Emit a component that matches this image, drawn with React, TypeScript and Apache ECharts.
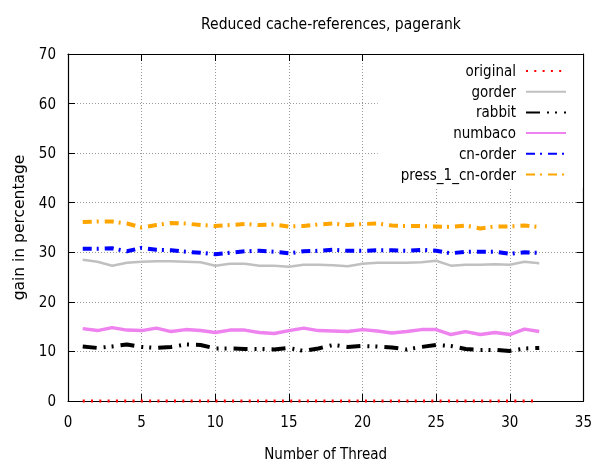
import React, { useEffect, useRef } from "react";
import * as echarts from "echarts";

const titleText = "Reduced cache-references, pagerank";
const xAxisName = "Number of Thread";
const yAxisName = "gain in percentage";

const threads = [1, 2, 3, 4, 5, 6, 7, 8, 9, 10, 11, 12, 13, 14, 15, 16, 17, 18, 19, 20, 21, 22, 23, 24, 25, 26, 27, 28, 29, 30, 31, 32];

const original = [0, 0, 0, 0, 0, 0, 0, 0, 0, 0, 0, 0, 0, 0, 0, 0, 0, 0, 0, 0, 0, 0, 0, 0, 0, 0, 0, 0, 0, 0, 0, 0];
const gorder = [28.5, 28.1, 27.3, 27.9, 28.1, 28.2, 28.2, 28.1, 28.0, 27.3, 27.7, 27.7, 27.3, 27.3, 27.1, 27.5, 27.5, 27.4, 27.2, 27.7, 27.9, 27.9, 27.9, 28.0, 28.3, 27.3, 27.5, 27.5, 27.6, 27.5, 28.1, 27.8];
const rabbit = [11.0, 10.7, 11.0, 11.4, 10.9, 10.7, 10.9, 11.4, 11.3, 10.6, 10.6, 10.5, 10.5, 10.4, 10.7, 10.1, 10.6, 11.3, 10.9, 11.1, 11.0, 10.8, 10.4, 10.9, 11.3, 11.1, 10.5, 10.3, 10.3, 10.1, 10.6, 10.7];
const numbaco = [14.6, 14.2, 14.8, 14.3, 14.2, 14.7, 14.0, 14.4, 14.2, 13.8, 14.3, 14.3, 13.8, 13.6, 14.2, 14.7, 14.2, 14.1, 14.0, 14.4, 14.1, 13.7, 14.0, 14.4, 14.4, 13.4, 14.0, 13.4, 13.8, 13.4, 14.5, 14.0];
const cnOrder = [30.7, 30.7, 30.8, 30.2, 30.9, 30.5, 30.4, 30.1, 29.9, 29.6, 29.9, 30.2, 30.3, 30.1, 29.8, 30.2, 30.3, 30.5, 30.3, 30.3, 30.4, 30.4, 30.3, 30.5, 30.3, 29.8, 30.1, 30.1, 30.1, 29.7, 30.0, 29.9];
const press1CnOrder = [36.1, 36.2, 36.2, 35.8, 35.0, 35.5, 35.9, 35.8, 35.5, 35.3, 35.5, 35.7, 35.5, 35.6, 35.2, 35.3, 35.6, 35.8, 35.5, 35.7, 35.8, 35.4, 35.3, 35.3, 35.2, 35.1, 35.4, 34.8, 35.2, 35.2, 35.4, 35.1];

const seriesNames = ["original", "gorder", "rabbit", "numbaco", "cn-order", "press_1_cn-order"];

const FONT = "'DejaVu Sans Condensed', 'DejaVu Sans', sans-serif";
const FONT_REG = "'DejaVu Sans', sans-serif";

function pairs(vals: number[]) {
  return threads.map((t, i) => [t, vals[i]]);
}

export default function App() {
  const ref = useRef<HTMLDivElement>(null);
  useEffect(() => {
    if (!ref.current) return;
    const chart = echarts.init(ref.current, undefined, { renderer: "svg" });
    const axisCommon = {
      type: "value" as const,
      axisLine: { show: true, onZero: false, lineStyle: { color: "#000", width: 1.2 } },
      axisTick: { show: true, inside: true, length: 7, lineStyle: { color: "#000", width: 1 } },
    };
    const mk = (name: string, vals: number[], color: string, width: number, dash: any, extra: any = {}) => ({
      name,
      type: "line",
      data: pairs(vals),
      symbol: "none",
      showSymbol: false,
      lineStyle: { color, width, type: dash, cap: "butt" },
      itemStyle: { color },
      ...extra,
    });
    chart.setOption({
      animation: false,
      textStyle: { fontFamily: FONT },
      title: {
        text: titleText,
        left: 326,
        textAlign: "center",
        top: 11,
        textStyle: { fontFamily: FONT, fontSize: 15.5, fontWeight: "normal", color: "#000" },
      },
      grid: { left: 68, right: 10, top: 54, bottom: 60, containLabel: false },
      xAxis: [
        {
          ...axisCommon,
          position: "bottom",
          min: 0,
          max: 35,
          interval: 5,
          name: xAxisName,
          nameLocation: "middle",
          nameGap: 45,
          nameTextStyle: { fontFamily: FONT, fontSize: 15, color: "#000" },
          axisLabel: { show: true, margin: 13, fontFamily: FONT, fontSize: 15, color: "#000" },
          splitLine: { show: true, lineStyle: { color: "#999", width: 1, type: [1, 2] } },
        },
        {
          ...axisCommon,
          position: "top",
          min: 0,
          max: 35,
          interval: 5,
          axisLabel: { show: false },
          splitLine: { show: false },
        },
      ],
      yAxis: [
        {
          ...axisCommon,
          position: "left",
          min: 0,
          max: 70,
          interval: 10,
          name: yAxisName,
          nameLocation: "middle",
          nameGap: 41,
          nameTextStyle: { fontFamily: FONT_REG, fontSize: 15.5, color: "#000" },
          axisLabel: { show: true, margin: 12, fontFamily: FONT, fontSize: 15, color: "#000" },
          splitLine: { show: true, lineStyle: { color: "#999", width: 1, type: [1, 2] } },
        },
        {
          ...axisCommon,
          position: "right",
          min: 0,
          max: 70,
          interval: 10,
          axisLabel: { show: false },
          splitLine: { show: false },
        },
      ],
      legend: {
        data: seriesNames,
        orient: "vertical",
        align: "right",
        right: 12,
        top: 55,
        padding: [8.5, 16, 6, 23],
        itemWidth: 40,
        itemHeight: 14,
        itemGap: 5.7,
        backgroundColor: "#fff",
        itemStyle: { opacity: 0 },
        textStyle: { fontFamily: FONT, fontSize: 15, color: "#000", padding: [0, 5, 0, 0] },
      },
      series: [
        mk(seriesNames[0], original, "#ff0000", 3, [2, 6.3], { clip: false, z: 5 }),
        mk(seriesNames[1], gorder, "#c0c0c0", 2.5, "solid"),
        mk(seriesNames[2], rabbit, "#000000", 4, [14, 7, 2, 6, 2, 7]),
        mk(seriesNames[3], numbaco, "#ee82ee", 3.5, "solid"),
        mk(seriesNames[4], cnOrder, "#0000ff", 4, [9, 5, 2, 6]),
        mk(seriesNames[5], press1CnOrder, "#ffa500", 4, [9, 5, 2, 6]),
      ],
    });
    return () => chart.dispose();
  }, []);
  return (
    <div
      ref={ref}
      style={{ position: "fixed", left: 0, top: 0, width: 595, height: 466 }}
    />
  );
}
